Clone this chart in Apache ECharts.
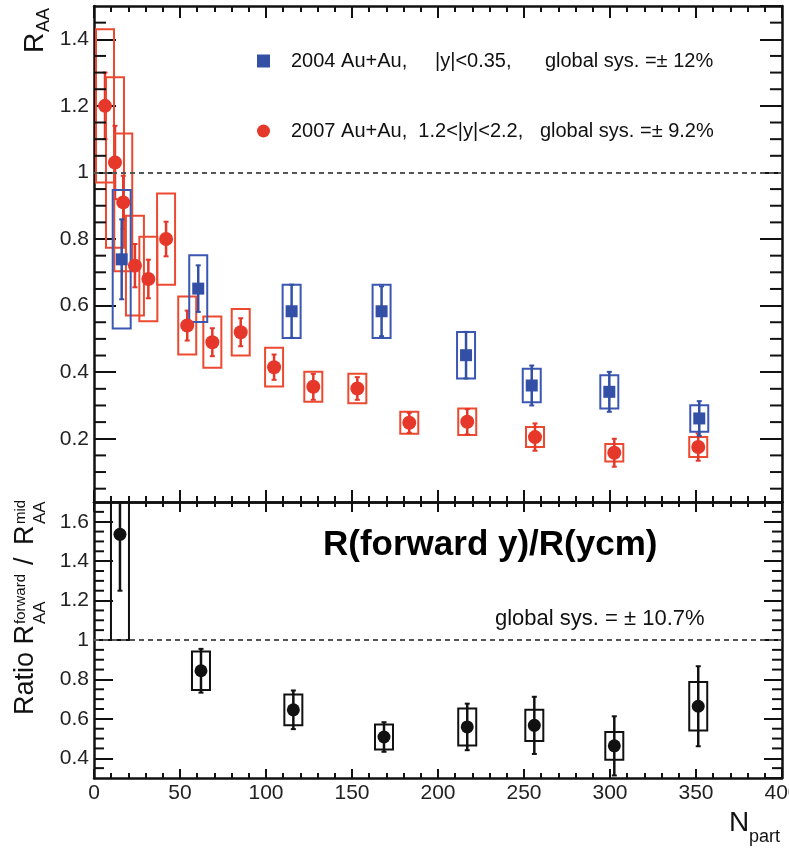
<!DOCTYPE html>
<html>
<head>
<meta charset="utf-8">
<script src="https://cdn.jsdelivr.net/npm/echarts@6/dist/echarts.min.js"></script>
<style>
  html, body { margin: 0; padding: 0; background: #fff; }
  #chart { width: 789px; height: 848px; }
</style>
</head>
<body>
<div id="chart"></div>
<script>
// ---- J/psi nuclear modification factor vs N_part ----
const NAME_MID = '2004 Au+Au,     |y|<0.35,      global sys. =\u00b1 12%';
const NAME_FWD = '2007 Au+Au,  1.2<|y|<2.2,   global sys. =\u00b1 9.2%';

// 2004 Au+Au, mid rapidity
const NPART_MID = [16.1, 60.6, 114.9, 167.2, 216.3, 254.5, 299.6, 351.9];
const RAA_MID   = [0.739, 0.651, 0.583, 0.583, 0.451, 0.360, 0.341, 0.261];
const STAT_MID  = [0.120, 0.070, 0.080, 0.075, 0.070, 0.060, 0.060, 0.052];
const SYS_MID   = [0.208, 0.100, 0.080, 0.080, 0.070, 0.050, 0.050, 0.040];

// 2007 Au+Au, forward rapidity
const NPART_FWD = [6.4, 12.2, 17.0, 23.8, 31.6, 41.9, 54.2, 68.8, 85.3, 104.7, 127.5, 153.1, 183.3, 217.0, 256.4, 302.5, 351.3];
const RAA_FWD   = [1.200, 1.030, 0.910, 0.720, 0.680, 0.800, 0.540, 0.490, 0.520, 0.415, 0.356, 0.351, 0.248, 0.251, 0.205, 0.158, 0.175];
const STAT_FWD  = [0.100, 0.110, 0.080, 0.065, 0.058, 0.052, 0.045, 0.042, 0.042, 0.038, 0.039, 0.034, 0.030, 0.038, 0.041, 0.042, 0.041];
const SYS_FWD   = [0.230, 0.256, 0.207, 0.150, 0.127, 0.137, 0.087, 0.077, 0.070, 0.058, 0.045, 0.044, 0.033, 0.040, 0.030, 0.026, 0.030];

// forward / mid ratio
const NPART_RATIO = [15.1, 62.2, 115.9, 168.6, 217.0, 256.0, 302.5, 351.3];
const RATIO       = [1.536, 0.844, 0.646, 0.508, 0.559, 0.567, 0.463, 0.664];
const STAT_RATIO  = [0.286, 0.111, 0.098, 0.075, 0.118, 0.145, 0.150, 0.203];
const SYS_RATIO   = [0.536, 0.098, 0.078, 0.063, 0.094, 0.079, 0.070, 0.123];

// axis ranges and minor tick values
const X_RANGE = [0, 400];
const Y_RANGE_TOP = [0.01, 1.5];
const Y_RANGE_BOT = [0.3, 1.7];
const MINOR_Y_TOP = [0.05, 0.10, 0.15, 0.25, 0.30, 0.35, 0.45, 0.50, 0.55, 0.65, 0.70, 0.75,
                     0.85, 0.90, 0.95, 1.05, 1.10, 1.15, 1.25, 1.30, 1.35, 1.45];
const MINOR_Y_BOT = [0.35, 0.45, 0.50, 0.55, 0.65, 0.70, 0.75, 0.85, 0.90, 0.95,
                     1.05, 1.10, 1.15, 1.25, 1.30, 1.35, 1.45, 1.50, 1.55, 1.65];

const FONT = '"Liberation Sans", Arial, Helvetica, sans-serif';
const INK = '#111';
const RED = '#e5372a', RED_BOX = '#ec4a30';
const BLUE = '#3350a6', BLUE_BOX = '#3b57b2';
const BOX_HALF = 9;   // px, half width of systematic boxes
const CAP = 2.5;      // px, half width of error bar caps

function rows(xs, ys, st, sy) {
  return xs.map((x, i) => [x, ys[i], st[i], sy[i]]);
}

// systematic box + statistical error bar, clipped to the plot frame
function errorBoxes(color, boxColor) {
  return function (params, api) {
    const cs = params.coordSys;
    const clampY = v => Math.max(cs.y, Math.min(cs.y + cs.height, v));
    const x = api.value(0), y = api.value(1), st = api.value(2), sy = api.value(3);
    const cx = api.coord([x, y])[0];
    const bTop = clampY(api.coord([x, y + sy])[1]);
    const bBot = clampY(api.coord([x, y - sy])[1]);
    const eTop = api.coord([x, y + st])[1];
    const eBot = api.coord([x, y - st])[1];
    const kids = [
      { type: 'rect', shape: { x: cx - BOX_HALF, y: bTop, width: 2 * BOX_HALF, height: bBot - bTop },
        style: { fill: 'none', stroke: boxColor, lineWidth: 2 } },
      { type: 'line', shape: { x1: cx, y1: clampY(eTop), x2: cx, y2: clampY(eBot) },
        style: { stroke: color, lineWidth: 2.5 } }
    ];
    [eTop, eBot].forEach(yy => {
      if (yy > cs.y + 1 && yy < cs.y + cs.height - 1) {
        kids.push({ type: 'line', shape: { x1: cx - CAP, y1: yy, x2: cx + CAP, y2: yy },
                    style: { stroke: color, lineWidth: 2 } });
      }
    });
    return { type: 'group', children: kids };
  };
}

// short inward ticks on both vertical frame edges
function minorTicks(len) {
  return function (params, api) {
    const cs = params.coordSys;
    const y = api.coord([api.value(0), api.value(1)])[1];
    return { type: 'group', children: [
      { type: 'line', shape: { x1: cs.x, y1: y, x2: cs.x + len, y2: y }, style: { stroke: INK, lineWidth: 2 } },
      { type: 'line', shape: { x1: cs.x + cs.width, y1: y, x2: cs.x + cs.width - len, y2: y }, style: { stroke: INK, lineWidth: 2 } }
    ] };
  };
}

function xAxisDef(grid, pos, tickLen, minorLen, labels) {
  return {
    type: 'value', gridIndex: grid, position: pos, min: X_RANGE[0], max: X_RANGE[1], interval: 50,
    axisLine: { show: true, onZero: false, lineStyle: { color: INK, width: 2.5 } },
    axisTick: { show: true, inside: true, length: tickLen, lineStyle: { color: INK, width: 2 } },
    minorTick: { show: true, splitNumber: 5, length: minorLen, lineStyle: { color: INK, width: 2 } },
    axisLabel: { show: labels, fontSize: 21, fontFamily: FONT, color: '#222', margin: 5 },
    splitLine: { show: false }
  };
}

function yAxisDef(grid, pos, range, tickLen, labels) {
  return {
    type: 'value', gridIndex: grid, position: pos, min: range[0], max: range[1], splitNumber: 7,
    axisLine: { show: true, onZero: false, lineStyle: { color: INK, width: 2.5 } },
    axisTick: { show: true, inside: true, length: tickLen, lineStyle: { color: INK, width: 2 } },
    axisLabel: { show: labels, fontSize: 21, fontFamily: FONT, color: '#222', margin: 5,
                 showMinLabel: false, showMaxLabel: false },
    splitLine: { show: false }
  };
}

function txt(text, size, x, y, extra) {
  return Object.assign({
    type: 'text', x: x, y: y,
    style: { text: text, font: size + 'px ' + FONT, fill: INK,
             align: 'left', verticalAlign: 'middle', textAlign: 'left', textVerticalAlign: 'middle' }
  }, extra || {});
}

const dashed = {
  silent: true, symbol: 'none', label: { show: false },
  lineStyle: { type: [5, 4], color: '#555', width: 2 },
  data: [{ yAxis: 1 }]
};

const chart = echarts.init(document.getElementById('chart'), null, { renderer: 'canvas' });
chart.setOption({
  animation: false,
  backgroundColor: '#fff',
  textStyle: { fontFamily: FONT },
  grid: [
    { left: 94, right: 7, top: 6, height: 496, containLabel: false, outerBoundsMode: 'none' },
    { left: 94, right: 7, top: 502, height: 276, containLabel: false, outerBoundsMode: 'none' }
  ],
  xAxis: [
    xAxisDef(0, 'bottom', 12, 6, false),
    xAxisDef(0, 'top', 12, 6, false),
    xAxisDef(1, 'bottom', 9, 5, true),
    xAxisDef(1, 'top', 10, 5, false)
  ],
  yAxis: [
    yAxisDef(0, 'left', Y_RANGE_TOP, 22, true),
    yAxisDef(0, 'right', Y_RANGE_TOP, 22, false),
    yAxisDef(1, 'left', Y_RANGE_BOT, 19, true),
    yAxisDef(1, 'right', Y_RANGE_BOT, 18, false)
  ],
  legend: {
    orient: 'vertical', left: 257, top: 51, padding: 0, itemGap: 50,
    itemWidth: 13, itemHeight: 13, selectedMode: false,
    data: [{ name: NAME_MID, icon: 'rect' }, { name: NAME_FWD, icon: 'circle' }],
    textStyle: { fontSize: 20, fontFamily: FONT, color: INK, padding: [0, 0, 0, 16] }
  },
  series: [
    { type: 'custom', name: 'sys-fwd', xAxisIndex: 0, yAxisIndex: 0, z: 2,
      encode: { x: 0, y: 1 }, data: rows(NPART_FWD, RAA_FWD, STAT_FWD, SYS_FWD),
      renderItem: errorBoxes(RED, RED_BOX) },
    { type: 'custom', name: 'sys-mid', xAxisIndex: 0, yAxisIndex: 0, z: 2,
      encode: { x: 0, y: 1 }, data: rows(NPART_MID, RAA_MID, STAT_MID, SYS_MID),
      renderItem: errorBoxes(BLUE, BLUE_BOX) },
    { type: 'scatter', name: NAME_FWD, xAxisIndex: 0, yAxisIndex: 0, z: 3,
      symbol: 'circle', symbolSize: 14, itemStyle: { color: RED, opacity: 1 },
      data: NPART_FWD.map((x, i) => [x, RAA_FWD[i]]), markLine: dashed },
    { type: 'scatter', name: NAME_MID, xAxisIndex: 0, yAxisIndex: 0, z: 3,
      symbol: 'rect', symbolSize: 12, itemStyle: { color: BLUE, opacity: 1 },
      data: NPART_MID.map((x, i) => [x, RAA_MID[i]]) },
    { type: 'custom', name: 'sys-ratio', xAxisIndex: 2, yAxisIndex: 2, z: 2,
      encode: { x: 0, y: 1 }, data: rows(NPART_RATIO, RATIO, STAT_RATIO, SYS_RATIO),
      renderItem: errorBoxes(INK, INK) },
    { type: 'scatter', name: 'ratio', xAxisIndex: 2, yAxisIndex: 2, z: 3,
      symbol: 'circle', symbolSize: 13, itemStyle: { color: INK, opacity: 1 },
      data: NPART_RATIO.map((x, i) => [x, RATIO[i]]), markLine: dashed },
    { type: 'custom', name: 'minor-top', xAxisIndex: 0, yAxisIndex: 0, z: 4, silent: true,
      encode: { x: 0, y: 1 }, data: MINOR_Y_TOP.map(v => [X_RANGE[0], v]), renderItem: minorTicks(12) },
    { type: 'custom', name: 'minor-bot', xAxisIndex: 2, yAxisIndex: 2, z: 4, silent: true,
      encode: { x: 0, y: 1 }, data: MINOR_Y_BOT.map(v => [X_RANGE[0], v]), renderItem: minorTicks(10) }
  ],
  graphic: [
    // R_AA axis title (top panel)
    { type: 'group', rotation: Math.PI / 2, x: 35, y: 53, children: [
      txt('R', 28, 0, 0),
      txt('AA', 18, 21, 9)
    ] },
    // Ratio axis title (bottom panel)
    { type: 'group', rotation: Math.PI / 2, x: 26, y: 715, children: [
      txt('Ratio R', 27, 0, 0),
      txt('AA', 17, 91, 14),
      txt('forward', 15, 91, -5),
      txt('/', 27, 150, 0),
      txt('R', 27, 170, 0),
      txt('AA', 17, 191, 14),
      txt('mid', 15, 191, -5)
    ] },
    // x axis title
    txt('N', 28, 729, 823.5),
    txt('part', 18, 749, 837),
    // annotations in the ratio panel
    { type: 'text', x: 323, y: 545, style: { text: 'R(forward y)/R(ycm)', font: 'bold 35px ' + FONT, fill: '#000',
      align: 'left', verticalAlign: 'middle', textAlign: 'left', textVerticalAlign: 'middle' } },
    txt('global sys. = \u00b1 10.7%', 22, 495, 619)
  ]
});
</script>
</body>
</html>
